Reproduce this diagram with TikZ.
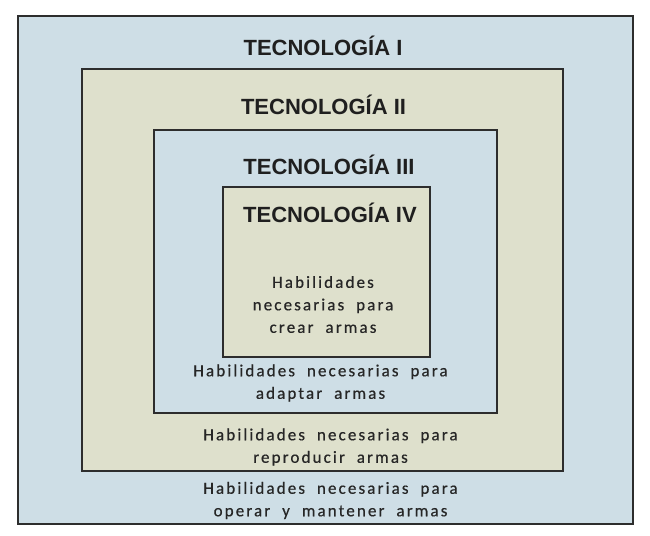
\documentclass[tikz,border=0pt]{standalone}
\usepackage{fontspec}
\setmainfont{Liberation Sans}
\newfontfamily\titlefont{Liberation Sans}
\newfontfamily\bodyfont[LetterSpace=12.5,WordSpace=2.0,FakeBold=0.5]{Carlito}
\definecolor{boxblue}{RGB}{206,222,230}
\definecolor{boxbeige}{RGB}{222,224,204}
\definecolor{frame}{RGB}{45,45,45}
\begin{document}
\begin{tikzpicture}[x=1pt,y=-1pt,
  layer/.style={draw=frame,line width=1.8pt},
  title/.style={font=\titlefont\bfseries\fontsize{22}{26}\selectfont,text=black!88,inner sep=0pt},
  body/.style={font=\bodyfont\fontsize{17}{22.5}\selectfont,text=black!85,align=center,inner sep=0pt}]
\useasboundingbox[fill=white] (0,0) rectangle (650,535);
\draw[layer,fill=boxblue]  (18,16) rectangle (633,524);
\draw[layer,fill=boxbeige] (82,69) rectangle (563,471);
\draw[layer,fill=boxblue]  (154,130) rectangle (497,413);
\draw[layer,fill=boxbeige] (223,187) rectangle (430,357);
\node[title] (t1) at (323,46) {TECNOLOGÍA I};
\node[title] (t2) at (323.5,104.5) {TECNOLOGÍA II};
\node[title] (t3) at (329,165) {TECNOLOGÍA III};
\node[title] (t4) at (330,213) {TECNOLOGÍA IV};
\node[body] (h4) at (323,304.5) {Habilidades\\necesarias para\\crear armas};
\node[body] (h3) at (320.5,383) {Habilidades necesarias para\\adaptar armas};
\node[body] (h2) at (330.5,447) {Habilidades necesarias para\\reproducir armas};
\node[body] (h1) at (330.5,500.5) {Habilidades necesarias para\\operar y mantener armas};
\end{tikzpicture}
\end{document}
